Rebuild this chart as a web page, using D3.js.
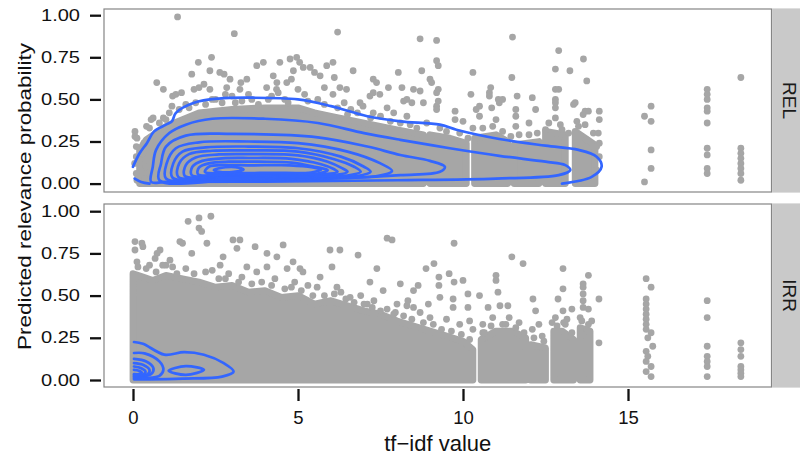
<!DOCTYPE html>
<html><head><meta charset="utf-8">
<script src="https://cdn.jsdelivr.net/npm/d3@7"></script>
<style>body{margin:0;background:#fff}</style>
</head><body>
<svg id="chart" width="800" height="458"></svg>
<script>
// ---------------- data ----------------
const xTicks = [0, 5, 10, 15];
const yTicks = [0, 0.25, 0.5, 0.75, 1];
const facetLabels = ["REL", "IRR"];
const xTitle = "tf\u2212idf value";
const yTitle = "Predicted relevance probability";

// dense (overplotted) cloud: [tf-idf, upper edge of solid cloud]; null = gap
const relDense = [[0.2,0.2],[0.4,0.26],[0.7,0.3],[1.0,0.34],[1.5,0.38],[2.0,0.42],[3.0,0.44],[4.0,0.45],[5.0,0.45],[5.5,0.42],[6.0,0.4],[7.0,0.36],[8.0,0.32],[8.8,0.29],[8.9,null],
  [9.0,0.29],[9.6,0.27],[10.1,0.24],[10.2,null],[10.35,0.27],[11.0,0.29],[11.35,0.25],[11.45,null],
  [11.55,0.23],[12.3,0.25],[12.4,null],[12.5,0.31],[13.1,0.29],[13.25,null],[13.4,0.31],[14.0,0.23]];
const irrDense = [[0,0.63],[0.3,0.61],[0.6,0.59],[1.0,0.62],[1.5,0.6],[2.0,0.58],[2.5,0.55],[3.0,0.56],[3.5,0.52],[4.0,0.53],[4.5,0.49],[5.0,0.5],[5.5,0.45],[6.0,0.47],[6.5,0.44],[7.0,0.41],[7.5,0.39],[8.0,0.35],[8.5,0.32],[9.0,0.29],[9.5,0.26],[10.0,0.23],[10.3,0.18],[10.4,null],
  [10.55,0.24],[11.0,0.29],[11.5,0.29],[11.9,0.25],[11.97,null],[12.05,0.21],[12.5,0.19],[12.6,null],
  [12.75,0.29],[13.0,0.29],[13.35,0.24],[13.45,null],[13.55,0.31],[13.85,0.29]];

// individual points: [tf-idf, predicted probability]
const relPoints = [[1.35,0.99],[3.07,0.89],[6.2,0.9],[0.72,0.6],[0.92,0.56],[1.98,0.72],[2.38,0.75],[2.33,0.67],[1.78,0.65],[2.0,0.57],[2.63,0.66],[2.94,0.62],[3.45,0.62],[3.75,0.7],[3.95,0.72],[4.45,0.72],[4.76,0.74],[4.96,0.75],[5.05,0.72],[5.16,0.69],[4.86,0.67],[4.8,0.62],[4.25,0.64],[5.37,0.69],[5.5,0.66],[5.87,0.7],[6.06,0.72],[5.67,0.64],[6.27,0.57],[6.47,0.56],[8.04,0.66],[7.28,0.62],[7.38,0.6],[7.74,0.57],[6.88,0.48],[7.18,0.52],[1.2,0.52],[1.47,0.54],[0.61,0.39],[0.41,0.34],[0.06,0.31],[0.06,0.28],[0.92,0.39],[2.84,0.57],[3.24,0.56],[2.33,0.56],[4.05,0.57],[4.35,0.56],[4.66,0.6],[6.67,0.67],
  [8.7,0.86],[9.2,0.85],[11.5,0.87],[12.9,0.79],[13.65,0.74],[12.8,0.68],[13.24,0.67],[13.75,0.61],[12.9,0.56],[9.2,0.73],[9.25,0.7],[8.75,0.67],[9.0,0.62],[9.05,0.6],[10.3,0.66],[11.48,0.63],[10.24,0.53],[10.5,0.46],[10.84,0.57],[10.8,0.52],[11.07,0.5],[11.64,0.52],[12.1,0.51],[12.8,0.5],[13.35,0.47],[13.7,0.43],[14.13,0.43],[14.13,0.38],[14.13,0.24],[14.13,0.16],[8.5,0.56],[8.7,0.55],[8.3,0.5],[9.25,0.56],[9.76,0.43],[9.2,0.46],[9.76,0.38],[10.87,0.45],[11.1,0.48],[11.6,0.4],[12.8,0.45],[12.8,0.39],[13.64,0.41],[13.8,0.43],
  [15.7,0.46],[15.5,0.4],[15.7,0.37],[15.7,0.2],[15.7,0.09],[15.5,0.01],
  [17.4,0.56],[17.4,0.53],[17.4,0.5],[17.4,0.45],[17.4,0.43],[17.4,0.36],[17.4,0.21],[17.4,0.17],[17.4,0.09],[17.4,0.06],
  [18.42,0.63],[18.42,0.21],[18.42,0.18],[18.42,0.15],[18.42,0.12],[18.42,0.09],[18.42,0.06],[18.42,0.02],
  [6.06,0.53],[6.4,0.48],[7.28,0.54],[7.48,0.53],[8.15,0.57],[9.2,0.54],[8.2,0.49],[8.45,0.48],[8.8,0.48],[9.25,0.49],[9.2,0.44],[10.8,0.54],[11.2,0.5],[12.8,0.56],[12.8,0.48],[13.4,0.48],[11.6,0.44],[12.2,0.44],[10.4,0.44],[6.97,0.46],[6.6,0.44],[7.28,0.42],[7.7,0.45],[7.9,0.42],[8.3,0.4],[10.0,0.37],[10.5,0.4],[11.0,0.38],[11.6,0.34],[12.0,0.36],[12.5,0.32],[13.0,0.32],[13.5,0.34],[13.75,0.26],[14.05,0.22],[14.05,0.08],[13.75,0.02],
  [0.12,0.27],[0.33,0.24],[0.1,0.22],[0.1,0.16],[0.24,0.08],[0.1,0.06],[0.12,0.02],[0.55,0.38],[1.0,0.38],[1.3,0.53],[1.18,0.46],[1.85,0.56],[2.15,0.59],[2.76,0.65],[3.27,0.6],[4.36,0.6],[6.1,0.63],[5.8,0.57],
  [0.05,0.12],[0.2,0.14],[0.3,0.18],[0.15,0.04],[0.4,0.1],[0.35,0.03],[1.6,0.47],[2.5,0.5],[3.0,0.52],[3.6,0.5],[4.2,0.52],[5.2,0.53],[5.6,0.5],[1.9,0.48],[2.7,0.48],[3.3,0.49],[4.6,0.5],[5.0,0.56],
  [0.5,0.33],[0.8,0.36],[1.1,0.42],[1.4,0.44],[1.7,0.45],[2.2,0.47],[2.4,0.5],[2.8,0.53],[3.1,0.48],[3.5,0.53],[3.8,0.47],[4.1,0.5],[4.4,0.54],[4.7,0.48],[5.3,0.49],[5.8,0.47],[6.2,0.45],[6.5,0.41],[6.8,0.42],[7.2,0.39],[7.5,0.4],[7.8,0.37],[8.1,0.36],[8.4,0.35],[8.6,0.33],[8.9,0.36],[9.3,0.33],[9.5,0.31],[9.9,0.3],[10.15,0.27],[10.3,0.33],[10.6,0.33],[10.9,0.34],[11.2,0.31],[11.45,0.28],[11.7,0.29],[12.0,0.29],[12.25,0.3],[12.6,0.36],[12.95,0.35],[13.2,0.3],[13.45,0.37],[13.7,0.35],[13.95,0.3],[14.1,0.3]];

const irrPoints = [[1.67,0.94],[2.0,0.96],[2.36,0.97],[2.0,0.9],[2.08,0.88],[0.06,0.82],[0.27,0.81],[0.06,0.77],[0.3,0.79],[1.42,0.82],[1.5,0.81],[2.24,0.81],[3.03,0.83],[3.24,0.83],[3.15,0.78],[3.7,0.79],[4.55,0.8],[4.06,0.75],[4.36,0.73],[0.73,0.75],[0.82,0.77],[0.67,0.72],[1.12,0.71],[1.78,0.75],[2.73,0.73],[2.64,0.68],[3.45,0.67],[4.85,0.7],[4.67,0.66],[5.06,0.66],[5.97,0.77],[6.27,0.77],[6.03,0.67],[6.82,0.74],[7.39,0.66],[7.7,0.84],[7.85,0.83],[7.18,0.58],[7.58,0.53],[8.1,0.57],[5.67,0.61],[5.58,0.55],[6.18,0.55],[6.58,0.49],[7.1,0.45],[7.5,0.41],[7.9,0.39],[0.12,0.7],[4.06,0.67],[3.75,0.64],[1.33,0.63],[5.15,0.64],
  [0.5,0.68],[1.0,0.68],[2.4,0.65],[2.9,0.63],[3.3,0.61],[4.3,0.6],[4.9,0.58],[5.3,0.56],[6.3,0.52],[6.9,0.5],[7.3,0.47],[8.3,0.44],[8.0,0.45],
  [9.73,0.81],[11.48,0.73],[11.82,0.69],[9.12,0.69],[8.88,0.66],[9.58,0.63],[9.27,0.61],[9.73,0.58],[10.0,0.59],[13.03,0.66],[13.8,0.62],[11.0,0.62],[11.0,0.59],[10.5,0.5],[10.15,0.51],[11.06,0.52],[13.03,0.54],[13.64,0.57],[13.64,0.55],[13.64,0.51],[13.64,0.47],[14.12,0.48],[12.12,0.48],[12.88,0.48],[9.27,0.56],[8.64,0.56],[8.5,0.53],[9.7,0.48],[9.7,0.43],[10.15,0.43],[10.76,0.43],[11.36,0.44],[11.12,0.44],[12.2,0.41],[13.3,0.42],[13.03,0.41],[13.8,0.42],[14.12,0.22],[8.33,0.47],[9.3,0.49],[8.95,0.45],[8.5,0.43],[10.6,0.28],[10.9,0.37],[11.4,0.37],[11.7,0.34],[12.1,0.3],[12.4,0.26],[12.8,0.37],[13.15,0.36],[13.55,0.37],[13.75,0.3],[13.64,0.43],
  [10.3,0.3],[10.2,0.35],[9.9,0.33],[9.5,0.36],[9.0,0.37],[8.7,0.4],[12.3,0.33],[12.7,0.34],[13.1,0.33],[13.9,0.35],[11.2,0.33],[10.6,0.33],
  [0.15,0.67],[0.4,0.66],[0.7,0.64],[0.9,0.68],[1.2,0.67],[1.6,0.66],[1.85,0.63],[2.2,0.64],[2.6,0.6],[2.8,0.6],[3.2,0.58],[3.6,0.57],[3.9,0.58],[4.2,0.56],[4.6,0.54],[4.8,0.55],[5.1,0.53],[5.45,0.5],[5.8,0.5],[6.1,0.51],[6.45,0.48],[6.7,0.46],[7.0,0.45],[7.25,0.43],[7.7,0.42],[7.95,0.4],[8.2,0.38],[8.45,0.36],[8.8,0.34],[9.1,0.33],[9.35,0.3],[9.65,0.29],[9.95,0.27],[10.2,0.24],[10.65,0.28],[10.85,0.32],[11.3,0.33],[11.6,0.31],[11.85,0.28],[12.15,0.25],[12.45,0.23],[12.85,0.32],[13.05,0.34],[13.3,0.28],[13.6,0.35],[13.8,0.33],
  [15.55,0.6],[15.7,0.55],[15.55,0.48],[15.55,0.45],[15.55,0.42],[15.55,0.39],[15.55,0.36],[15.55,0.33],[15.55,0.3],[15.7,0.28],[15.6,0.25],[15.75,0.2],[15.55,0.17],[15.6,0.14],[15.55,0.11],[15.7,0.08],[15.55,0.05],[15.7,0.02],
  [17.4,0.47],[17.4,0.37],[17.4,0.2],[17.4,0.14],[17.4,0.11],[17.4,0.08],[17.4,0.02],
  [18.42,0.22],[18.42,0.18],[18.42,0.14],[18.42,0.08],[18.42,0.06],[18.42,0.04],[18.42,0.02]];

// 2-d density contour lines (traced), [tf-idf, probability]
const relContours = [
  {closed:false, pts:[[0.0,0.1],[0.2,0.18],[0.42,0.24],[0.64,0.31],[1.0,0.35],[1.18,0.37],[1.3,0.42],[1.85,0.48],[2.6,0.505],[3.5,0.51],[5.0,0.5],[6.0,0.46],[7.1,0.4],[8.1,0.37],[9.3,0.35],[9.8,0.32],[11.1,0.265],[12.5,0.225],[13.5,0.2],[14.05,0.16],[14.2,0.1],[13.9,0.04],[13.0,0.0]]},
  {closed:false, pts:[[0.05,0.03],[0.25,0.01],[0.5,0.0]]},
  {closed:true, pts:[[0.55,0.01],[0.6,0.1],[0.7,0.2],[1.1,0.3],[1.6,0.35],[2.4,0.385],[4.0,0.385],[5.6,0.36],[7.0,0.3],[8.1,0.26],[9.6,0.21],[11.1,0.165],[12.5,0.13],[13.1,0.11],[13.25,0.08],[12.9,0.05],[11.0,0.03],[8.0,0.02],[4.0,0.012],[1.0,0.01]]},
  {closed:true, pts:[[0.8,0.02],[0.85,0.12],[1.0,0.22],[1.6,0.285],[3.0,0.295],[5.6,0.275],[7.1,0.22],[8.1,0.17],[9.0,0.135],[9.45,0.1],[9.3,0.07],[8.1,0.05],[6.0,0.03],[3.0,0.02]]},
  {closed:true, pts:[[1.0,0.03],[1.02,0.12],[1.3,0.21],[2.0,0.245],[3.5,0.25],[5.0,0.24],[6.5,0.19],[7.5,0.12],[7.85,0.075],[7.4,0.045],[5.0,0.03],[2.5,0.025]]},
  {closed:true, pts:[[1.2,0.035],[1.22,0.12],[1.5,0.19],[2.2,0.215],[3.5,0.22],[5.0,0.21],[6.3,0.16],[7.0,0.1],[7.2,0.07],[6.8,0.045],[5.0,0.035],[2.5,0.03]]},
  {closed:true, pts:[[1.37,0.04],[1.4,0.12],[1.7,0.175],[2.4,0.195],[3.5,0.197],[5.0,0.19],[6.1,0.145],[6.7,0.1],[6.9,0.07],[6.5,0.048],[4.5,0.04],[2.5,0.036]]},
  {closed:true, pts:[[1.57,0.045],[1.6,0.11],[1.9,0.155],[2.6,0.173],[3.5,0.175],[5.0,0.168],[5.9,0.13],[6.35,0.09],[6.5,0.07],[6.1,0.05],[4.5,0.045],[2.6,0.042]]},
  {closed:true, pts:[[1.78,0.05],[1.8,0.1],[2.1,0.135],[2.7,0.15],[3.5,0.152],[4.8,0.147],[5.7,0.115],[6.1,0.085],[6.2,0.07],[5.8,0.055],[4.5,0.05],[2.7,0.048]]},
  {closed:true, pts:[[1.97,0.055],[2.0,0.095],[2.3,0.12],[2.9,0.13],[3.8,0.13],[4.8,0.125],[5.5,0.1],[5.9,0.08],[5.6,0.06],[4.5,0.056],[2.8,0.054]]},
  {closed:true, pts:[[2.18,0.07],[2.3,0.1],[2.8,0.11],[3.6,0.108],[4.5,0.11],[5.3,0.1],[5.7,0.083],[5.4,0.066],[4.2,0.064],[3.0,0.063]]},
  {closed:true, pts:[[2.45,0.08],[2.8,0.097],[3.2,0.095],[3.35,0.083],[3.0,0.068],[2.6,0.07]]}
];
const irrContours = [
  {closed:false, pts:[[0.03,0.225],[0.3,0.215],[0.95,0.15],[1.55,0.165],[2.15,0.15],[2.75,0.1],[3.05,0.05],[2.7,0.02],[1.5,0.008],[0.5,0.004],[0.03,0.004]]},
  {closed:false, pts:[[0.03,0.16],[0.35,0.158],[0.8,0.11],[0.92,0.06],[0.8,0.025],[0.4,0.012],[0.03,0.01]]},
  {closed:true, pts:[[1.08,0.055],[1.6,0.082],[2.15,0.06],[1.6,0.03]]},
  {closed:false, pts:[[0.03,0.125],[0.4,0.11],[0.62,0.07],[0.55,0.035],[0.3,0.02],[0.03,0.018]]},
  {closed:false, pts:[[0.03,0.1],[0.3,0.09],[0.5,0.06],[0.45,0.035],[0.25,0.025],[0.03,0.024]]},
  {closed:false, pts:[[0.03,0.08],[0.25,0.07],[0.38,0.05],[0.3,0.032],[0.03,0.03]]},
  {closed:false, pts:[[0.03,0.06],[0.18,0.055],[0.27,0.043],[0.18,0.035],[0.03,0.035]]}
];

// ---------------- drawing ----------------
const svg = d3.select("#chart");
const pointColor = "#a6a6a6", contourColor = "#3366ff";
const panelLeft = 104, panelRight = 771.5, stripRight = 800;
const x = d3.scaleLinear().domain([0, 15]).range([133, 628]);

const panels = [
  {label: facetLabels[0], top: 9, bottom: 192, yr: [183.6, 15.2], dense: relDense, pts: relPoints, contours: relContours},
  {label: facetLabels[1], top: 204, bottom: 387, yr: [380, 211.2], dense: irrDense, pts: irrPoints, contours: irrContours}
];

panels.forEach((p, i) => {
  const y = d3.scaleLinear().domain([0, 1]).range(p.yr);
  const g = svg.append("g");
  const cid = "clip" + i;
  svg.append("clipPath").attr("id", cid).append("rect")
    .attr("x", panelLeft).attr("y", p.top).attr("width", panelRight - panelLeft).attr("height", p.bottom - p.top);
  g.append("rect").attr("x", panelLeft).attr("y", p.top).attr("width", panelRight - panelLeft).attr("height", p.bottom - p.top)
    .attr("fill", "#fff");
  const inner = g.append("g").attr("clip-path", `url(#${cid})`);
  const area = d3.area().defined(d => d[1] !== null).x(d => x(d[0])).y0(y(0)).y1(d => y(d[1]));
  inner.append("path").datum(p.dense).attr("d", area)
    .attr("fill", pointColor).attr("stroke", pointColor).attr("stroke-width", 6.8).attr("stroke-linejoin", "round");
  inner.selectAll("circle").data(p.pts).join("circle")
    .attr("cx", d => x(d[0])).attr("cy", d => y(d[1])).attr("r", 3.4).attr("fill", pointColor);
  p.contours.forEach(c => {
    const line = d3.line().x(d => x(d[0])).y(d => y(d[1]))
      .curve(c.closed ? d3.curveCatmullRomClosed.alpha(0.5) : d3.curveCatmullRom.alpha(0.5));
    inner.append("path").attr("d", line(c.pts)).attr("fill", "none")
      .attr("stroke", contourColor).attr("stroke-width", 2.7).attr("stroke-linejoin", "round").attr("stroke-linecap", "round");
  });
  g.append("rect").attr("x", panelLeft).attr("y", p.top).attr("width", panelRight - panelLeft).attr("height", p.bottom - p.top)
    .attr("fill", "none").attr("stroke", "#858585").attr("stroke-width", 1.2);
  // strip
  g.append("rect").attr("x", panelRight + 0.6).attr("y", p.top - 0.6).attr("width", stripRight - panelRight).attr("height", p.bottom - p.top + 1.2)
    .attr("fill", "#c9c9c9");
  g.append("text").attr("transform", `translate(789,${(p.top + p.bottom) / 2}) rotate(90)`)
    .attr("text-anchor", "middle").attr("dominant-baseline", "central")
    .attr("font-family", "Liberation Sans, Arial, sans-serif").attr("font-size", 19).attr("fill", "#1a1a1a")
    .text(p.label);
  // y axis
  const ax = svg.append("g").attr("transform", "translate(101,0)")
    .call(d3.axisLeft(y).tickValues(yTicks).tickFormat(d3.format(".2f")).tickSizeInner(11).tickSizeOuter(0).tickPadding(10));
  ax.select(".domain").remove();
  ax.selectAll(".tick line").attr("stroke", "#111").attr("stroke-width", 2.3);
  ax.selectAll(".tick text").attr("font-family", "Liberation Sans, Arial, sans-serif").attr("font-size", 16)
    .attr("fill", "#111").attr("textLength", 39).attr("lengthAdjust", "spacingAndGlyphs");
});

// x axis
const xa = svg.append("g").attr("transform", "translate(0,389)")
  .call(d3.axisBottom(x).tickValues(xTicks).tickSizeInner(12).tickSizeOuter(0).tickPadding(10));
xa.select(".domain").remove();
xa.selectAll(".tick line").attr("stroke", "#111").attr("stroke-width", 2.3);
xa.selectAll(".tick text").attr("font-family", "Liberation Sans, Arial, sans-serif").attr("font-size", 18.5).attr("fill", "#111");

svg.append("text").attr("x", (panelLeft + panelRight) / 2).attr("y", 451).attr("text-anchor", "middle")
  .attr("font-family", "Liberation Sans, Arial, sans-serif").attr("font-size", 22).attr("fill", "#111").text(xTitle);
svg.append("text").attr("transform", "translate(31,196.5) rotate(-90)").attr("text-anchor", "middle")
  .attr("font-family", "Liberation Sans, Arial, sans-serif").attr("font-size", 18).attr("fill", "#111")
  .attr("textLength", 307).attr("lengthAdjust", "spacingAndGlyphs").text(yTitle);
</script>
</body></html>
